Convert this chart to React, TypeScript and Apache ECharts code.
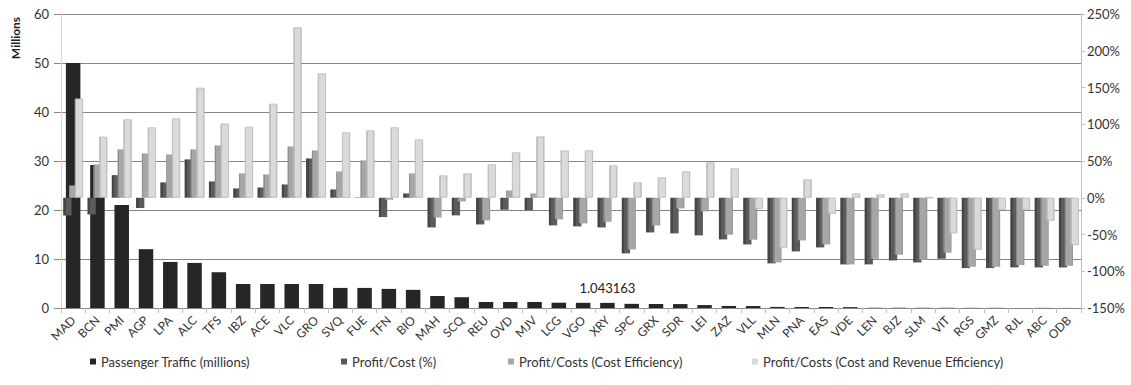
import React, { useEffect, useRef } from "react";
import * as echarts from "echarts";

// Airports ordered by passenger traffic
const airports = [
  "MAD", "BCN", "PMI", "AGP", "LPA", "ALC", "TFS", "IBZ", "ACE", "VLC", "GRO",
  "SVQ", "FUE", "TFN", "BIO", "MAH", "SCQ", "REU", "OVD", "MJV", "LCG", "VGO",
  "XRY", "SPC", "GRX", "SDR", "LEI", "ZAZ", "VLL", "MLN", "PNA", "EAS", "VDE",
  "LEN", "BJZ", "SLM", "VIT", "RGS", "GMZ", "RJL", "ABC", "ODB",
];

// Passenger traffic, millions (left axis)
const passengerTraffic = [
  50.0, 29.2, 21.0, 12.0, 9.4, 9.2, 7.3, 4.9, 4.9, 4.9, 4.9,
  4.1, 4.1, 3.9, 3.7, 2.45, 2.2, 1.22, 1.22, 1.22, 1.08, 1.06,
  1.043163, 0.85, 0.82, 0.8, 0.6, 0.42, 0.4, 0.22, 0.2, 0.2, 0.18,
  0.05, 0.05, 0.04, 0.04, 0.03, 0.03, 0.02, 0.02, 0.01,
];

// Ratios in % (right axis)
const profitCost = [
  -24, -22.7, 30.8, -14, 20.9, 52.2, 22.2, 12.7, 14, 18.1, 53.5,
  11.3, 0.5, -26.3, 5.9, -40.4, -24, -36.3, -16.3, -17.2, -37.6, -39,
  -40.4, -75.7, -47.2, -48.5, -51.2, -56.7, -63.5, -89.3, -73, -67.6, -90.7,
  -90.7, -85.3, -88, -83, -95.7, -95.7, -94.8, -94.8, -94.8,
];

const costEfficiency = [
  16.8, 45.4, 65.8, 60.3, 59, 65.8, 71.2, 33.1, 31.7, 69.8, 64.4,
  35.8, 50.8, -2.7, 33.1, -26.8, -5, -30.8, 10, 5.9, -29.5, -34.9,
  -32.7, -70.3, -37.6, -14.5, -18.6, -50.3, -57.1, -88, -58, -63.5, -90.7,
  -83, -77.6, -84.4, -74.8, -93.9, -93.9, -91.6, -92.5, -92.5,
];

const costRevenueEfficiency = [
  135, 83, 106.6, 95.7, 108, 149.7, 101, 96.6, 127.9, 231.7, 169.2,
  88.9, 91.6, 95.7, 79.4, 30.4, 33.1, 45.4, 61.7, 83.4, 64.4, 64.4,
  44, 20.9, 27.7, 35.8, 48.1, 39.9, -15, -68, 25, -21.8, 5.9,
  4.5, 5.9, 0, -48.5, -70.7, -16.3, -16.3, -31.3, -64.4,
];

const seriesNames = [
  "Passenger Traffic (millions)",
  "Profit/Cost (%)",
  "Profit/Costs (Cost Efficiency)",
  "Profit/Costs (Cost and Revenue Efficiency)",
];

const labelledAirport = "XRY";

const FONT = 'Lato, "Open Sans", "Liberation Sans", sans-serif';
const TEXT = "#333333";

// Horizontal shading: darker left edge, flat face, optional darker right edge
function shade(edge: string, face: string, rightEdge: string, leftStop: number, rightStop: number) {
  return new echarts.graphic.LinearGradient(0, 0, 1, 0, [
    { offset: 0, color: edge },
    { offset: leftStop, color: edge },
    { offset: leftStop, color: face },
    { offset: rightStop, color: face },
    { offset: rightStop, color: rightEdge },
    { offset: 1, color: rightEdge },
  ]);
}

export default function App() {
  const ref = useRef<HTMLDivElement>(null);

  useEffect(() => {
    if (!ref.current) return;
    const chart = echarts.init(ref.current, undefined, { renderer: "svg" });
    const labelIdx = airports.indexOf(labelledAirport);

    const legendColors = ["#262626", "#595959", "#a6a6a6", "#d9d9d9"];
    const legendLefts = [90, 341, 508, 752];

    const option: echarts.EChartsOption = {
      animation: false,
      backgroundColor: "#ffffff",
      textStyle: { fontFamily: FONT },
      grid: { left: 61, right: 50, top: 14, bottom: 77, containLabel: false },
      legend: seriesNames.map((name, i) => ({
        data: [{ name, itemStyle: { color: legendColors[i], borderWidth: 0 } }],
        left: legendLefts[i],
        top: 355,
        padding: 0,
        icon: "rect",
        itemWidth: 6,
        itemHeight: 6,
        selectedMode: false,
        textStyle: { fontSize: 13, color: TEXT, fontFamily: FONT },
      })),
      xAxis: [
        {
          type: "category",
          data: airports,
          position: "bottom",
          axisLine: { show: true, onZero: false, lineStyle: { color: "#868686" } },
          axisTick: { show: true, length: 5, lineStyle: { color: "#bfbfbf" } },
          axisLabel: {
            interval: 0,
            rotate: 45,
            fontSize: 12,
            color: TEXT,
            fontFamily: FONT,
            margin: 10,
          },
        },
        { type: "category", data: airports, show: false },
      ],
      yAxis: [
        {
          type: "value",
          min: 0,
          max: 60,
          interval: 10,
          position: "left",
          axisLine: { show: true, lineStyle: { color: "#d9d9d9" } },
          axisTick: { show: true, length: 7, lineStyle: { color: "#868686" } },
          axisLabel: { fontSize: 13, color: TEXT, fontFamily: FONT, margin: 12 },
          splitLine: { show: true, lineStyle: { color: "#868686", width: 1 } },
        },
        {
          type: "value",
          min: -150,
          max: 250,
          interval: 50,
          position: "right",
          axisLine: { show: true, lineStyle: { color: "#bfbfbf" } },
          axisTick: { show: true, length: 4, lineStyle: { color: "#bfbfbf" } },
          axisLabel: { fontSize: 13, color: TEXT, fontFamily: FONT, margin: 6, formatter: "{value}%" },
          splitLine: { show: false },
        },
      ],
      graphic: [
        {
          type: "text",
          x: 15,
          y: 38,
          rotation: Math.PI / 2,
          style: {
            text: "Millions",
            font: `bold 12px ${FONT}`,
            fill: "#222222",
            align: "center",
            verticalAlign: "middle",
          },
        },
      ],
      series: [
        {
          name: seriesNames[0],
          type: "bar",
          xAxisIndex: 0,
          yAxisIndex: 0,
          barWidth: 14.5,
          itemStyle: { color: "#262626" },
          data: passengerTraffic.map((v, i) =>
            i === labelIdx
              ? {
                  value: v,
                  label: {
                    show: true,
                    position: "top",
                    distance: 8,
                    formatter: (p: any) => String(p.value),
                    fontSize: 13,
                    color: "#222222",
                    fontFamily: FONT,
                  },
                }
              : v
          ),
        },
        {
          name: seriesNames[1],
          type: "bar",
          xAxisIndex: 1,
          yAxisIndex: 1,
          barWidth: 8.3,
          barGap: "-30%",
          itemStyle: { color: shade("#454545", "#5b5b5b", "#5b5b5b", 0.3, 1) },
          data: profitCost,
        },
        {
          name: seriesNames[2],
          type: "bar",
          xAxisIndex: 1,
          yAxisIndex: 1,
          barWidth: 8.3,
          barGap: "-30%",
          itemStyle: { color: shade("#8e8e8e", "#a6a6a6", "#979797", 0.16, 0.88) },
          data: costEfficiency,
        },
        {
          name: seriesNames[3],
          type: "bar",
          xAxisIndex: 1,
          yAxisIndex: 1,
          barWidth: 8.3,
          barGap: "-30%",
          itemStyle: {
            color: shade("#c2c2c2", "#dadada", "#c6c6c6", 0.14, 0.88),
            borderColor: "#b9b9b9",
            borderWidth: 0.8,
          },
          data: costRevenueEfficiency,
        },
      ],
    };

    chart.setOption(option);
    return () => chart.dispose();
  }, []);

  return (
    <div
      ref={ref}
      style={{ position: "fixed", left: 0, top: 0, width: 1131, height: 385, background: "#fff" }}
    />
  );
}
